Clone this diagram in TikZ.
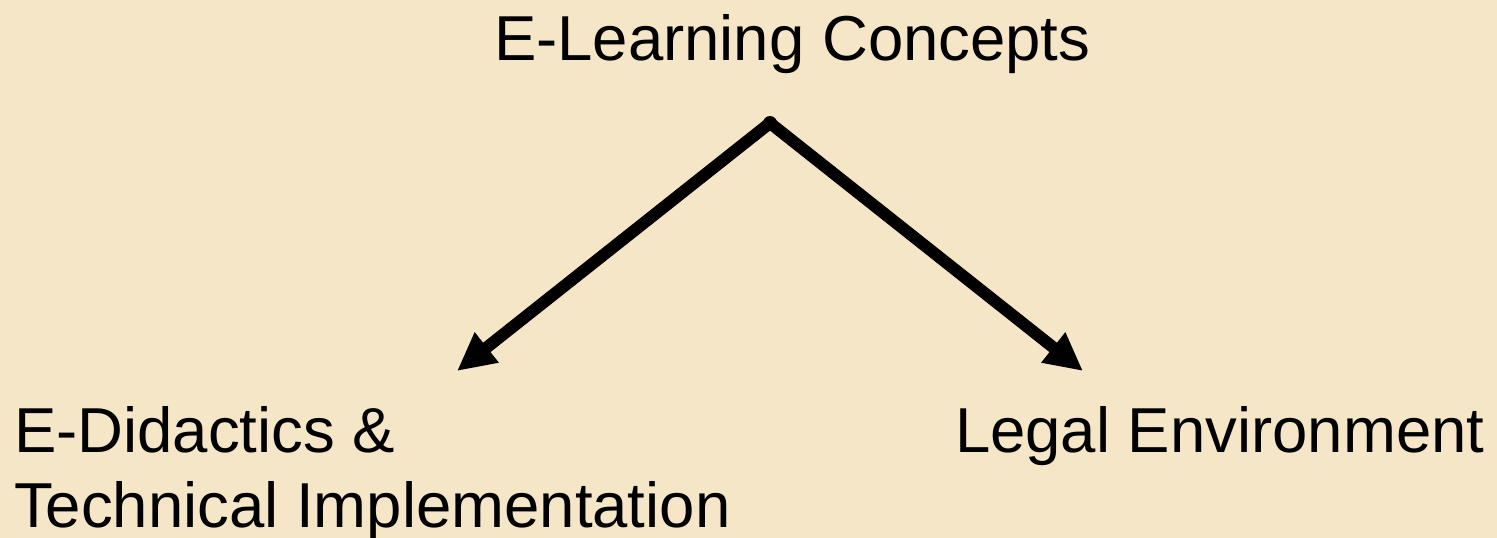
\documentclass[tikz,border=0pt]{standalone}
\usepackage{fontspec}
\setmainfont{Liberation Sans}
\usetikzlibrary{arrows.meta}
\definecolor{bg}{RGB}{245,230,199}
\tikzset{
  lbl/.style={inner sep=0pt, outer sep=0pt, font=\fontsize{63.5}{75}\selectfont, text=black},
  conn/.style={line width=12pt, line cap=round, -{Triangle[length=38pt,width=36pt]}}
}
\begin{document}
\begin{tikzpicture}[x=1pt,y=-1pt]
\fill[bg] (0,0) rectangle (1497,538);
\useasboundingbox (0,0) rectangle (1497,538);
\node[lbl, anchor=base west] (title) at (494,60) {E-Learning Concepts};
\node[lbl, anchor=base west] (legal) at (955,452) {Legal Environment};
\node[lbl, anchor=base west, align=left] (did) at (14,527) {E-Didactics \&\\Technical Implementation};
\coordinate (apex) at (770,123);
\coordinate (ltip) at (457,371);
\coordinate (rtip) at (1083,371);
\fill (apex) circle (7pt);
\draw[conn] (apex) -- (ltip);
\draw[conn] (apex) -- (rtip);
\end{tikzpicture}
\end{document}
